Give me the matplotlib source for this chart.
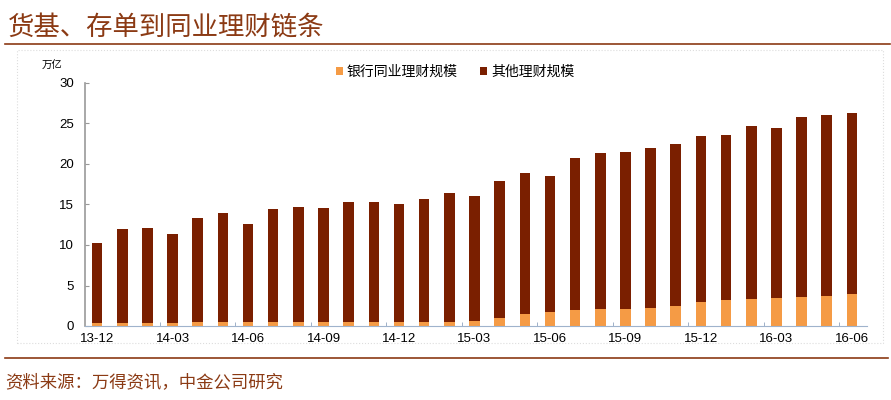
import matplotlib
import matplotlib.pyplot as plt
from matplotlib.lines import Line2D
from matplotlib.patches import Rectangle

matplotlib.use('Agg')
plt.rcParams['font.family'] = ['Noto Sans CJK SC', 'DejaVu Sans']

# monthly data, 13-12 .. 16-06 (万亿)
months = ['13-12', '14-01', '14-02', '14-03', '14-04', '14-05', '14-06', '14-07',
          '14-08', '14-09', '14-10', '14-11', '14-12', '15-01', '15-02', '15-03',
          '15-04', '15-05', '15-06', '15-07', '15-08', '15-09', '15-10', '15-11',
          '15-12', '16-01', '16-02', '16-03', '16-04', '16-05', '16-06']
totals = [10.2, 12.0, 12.05, 11.35, 13.3, 13.9, 12.6, 14.5, 14.7, 14.6, 15.3,
          15.3, 15.0, 15.65, 16.4, 16.05, 17.85, 18.9, 18.55, 20.7, 21.3, 21.5,
          22.0, 22.5, 23.4, 23.6, 24.65, 24.45, 25.75, 26.05, 26.3]
interbank = [0.35, 0.4, 0.4, 0.4, 0.5, 0.5, 0.45, 0.5, 0.5, 0.5, 0.5,
             0.5, 0.5, 0.5, 0.45, 0.6, 1.0, 1.45, 1.75, 2.0, 2.1, 2.1,
             2.25, 2.5, 2.95, 3.15, 3.3, 3.5, 3.55, 3.7, 4.0]
other = [t - b for t, b in zip(totals, interbank)]
labels = ['银行同业理财规模', '其他理财规模']

c_orange = '#F59B45'
c_brown = '#7A1F00'
c_line = '#8B3A14'

fig = plt.figure(figsize=(8.91, 4.0), dpi=100)
ax = fig.add_axes([85 / 891, 1 - 326 / 400, (867 - 85) / 891, (326 - 83) / 400])

x = list(range(len(months)))
ax.bar(x, interbank, width=0.42, color=c_orange, label=labels[0])
ax.bar(x, other, width=0.42, bottom=interbank, color=c_brown, label=labels[1])

ax.set_xlim(-0.48, 30.6)
ax.set_ylim(0, 30)
ax.set_yticks(range(0, 31, 5))
ax.set_xticks(x[::3])
ax.set_xticklabels(months[::3], family=['Liberation Sans', 'DejaVu Sans'], fontsize=9.5)
ax.set_xticks([i + 2.5 for i in range(0, 30, 3)], minor=True)
ax.tick_params(axis='x', which='major', length=0, pad=5)
ax.tick_params(axis='x', which='minor', direction='in', length=3, color='#8FA3BF')
ax.tick_params(axis='y', direction='in', length=3, color='#999999', pad=8)
for t in ax.get_yticklabels():
    t.set_family(['Liberation Sans', 'DejaVu Sans'])
    t.set_fontsize(9.5)

for s in ['top', 'right']:
    ax.spines[s].set_visible(False)
ax.spines['left'].set_color('#999999')
ax.spines['bottom'].set_color('#9FB3CC')
ax.spines['left'].set_linewidth(1.2)

fig.text(52 / 891, 1 - 65 / 400, '万亿', fontsize=7.5, ha='center', va='center')

ax.legend(loc='center', bbox_to_anchor=((455 - 85) / 782, 1 + (83 - 72) / 243), ncol=2,
          frameon=False, fontsize=10, handlelength=0.5, handleheight=0.5,
          handletextpad=0.3, columnspacing=1.6)

# title, rules and source note
fig.text(8 / 891, 1 - 27 / 400, '货基、存单到同业理财链条', fontsize=19,
         color=c_line, ha='left', va='center', style='italic')
fig.add_artist(Line2D([5 / 891, 890 / 891], [1 - 44 / 400] * 2, color=c_line, lw=1.2))
fig.add_artist(Line2D([5 / 891, 888 / 891], [1 - 358 / 400] * 2, color=c_line, lw=1.2))
fig.add_artist(Rectangle((17 / 891, 1 - 343 / 400), (883 - 17) / 891, (343 - 50) / 400,
                         transform=fig.transFigure, fill=False, ec='#DDDDDD',
                         lw=0.8, ls=':'))
fig.text(5 / 891, 1 - 382 / 400, '资料来源：万得资讯，中金公司研究', fontsize=12.5,
         color=c_line, ha='left', va='center', style='italic')

plt.savefig('out.png', dpi=100)
